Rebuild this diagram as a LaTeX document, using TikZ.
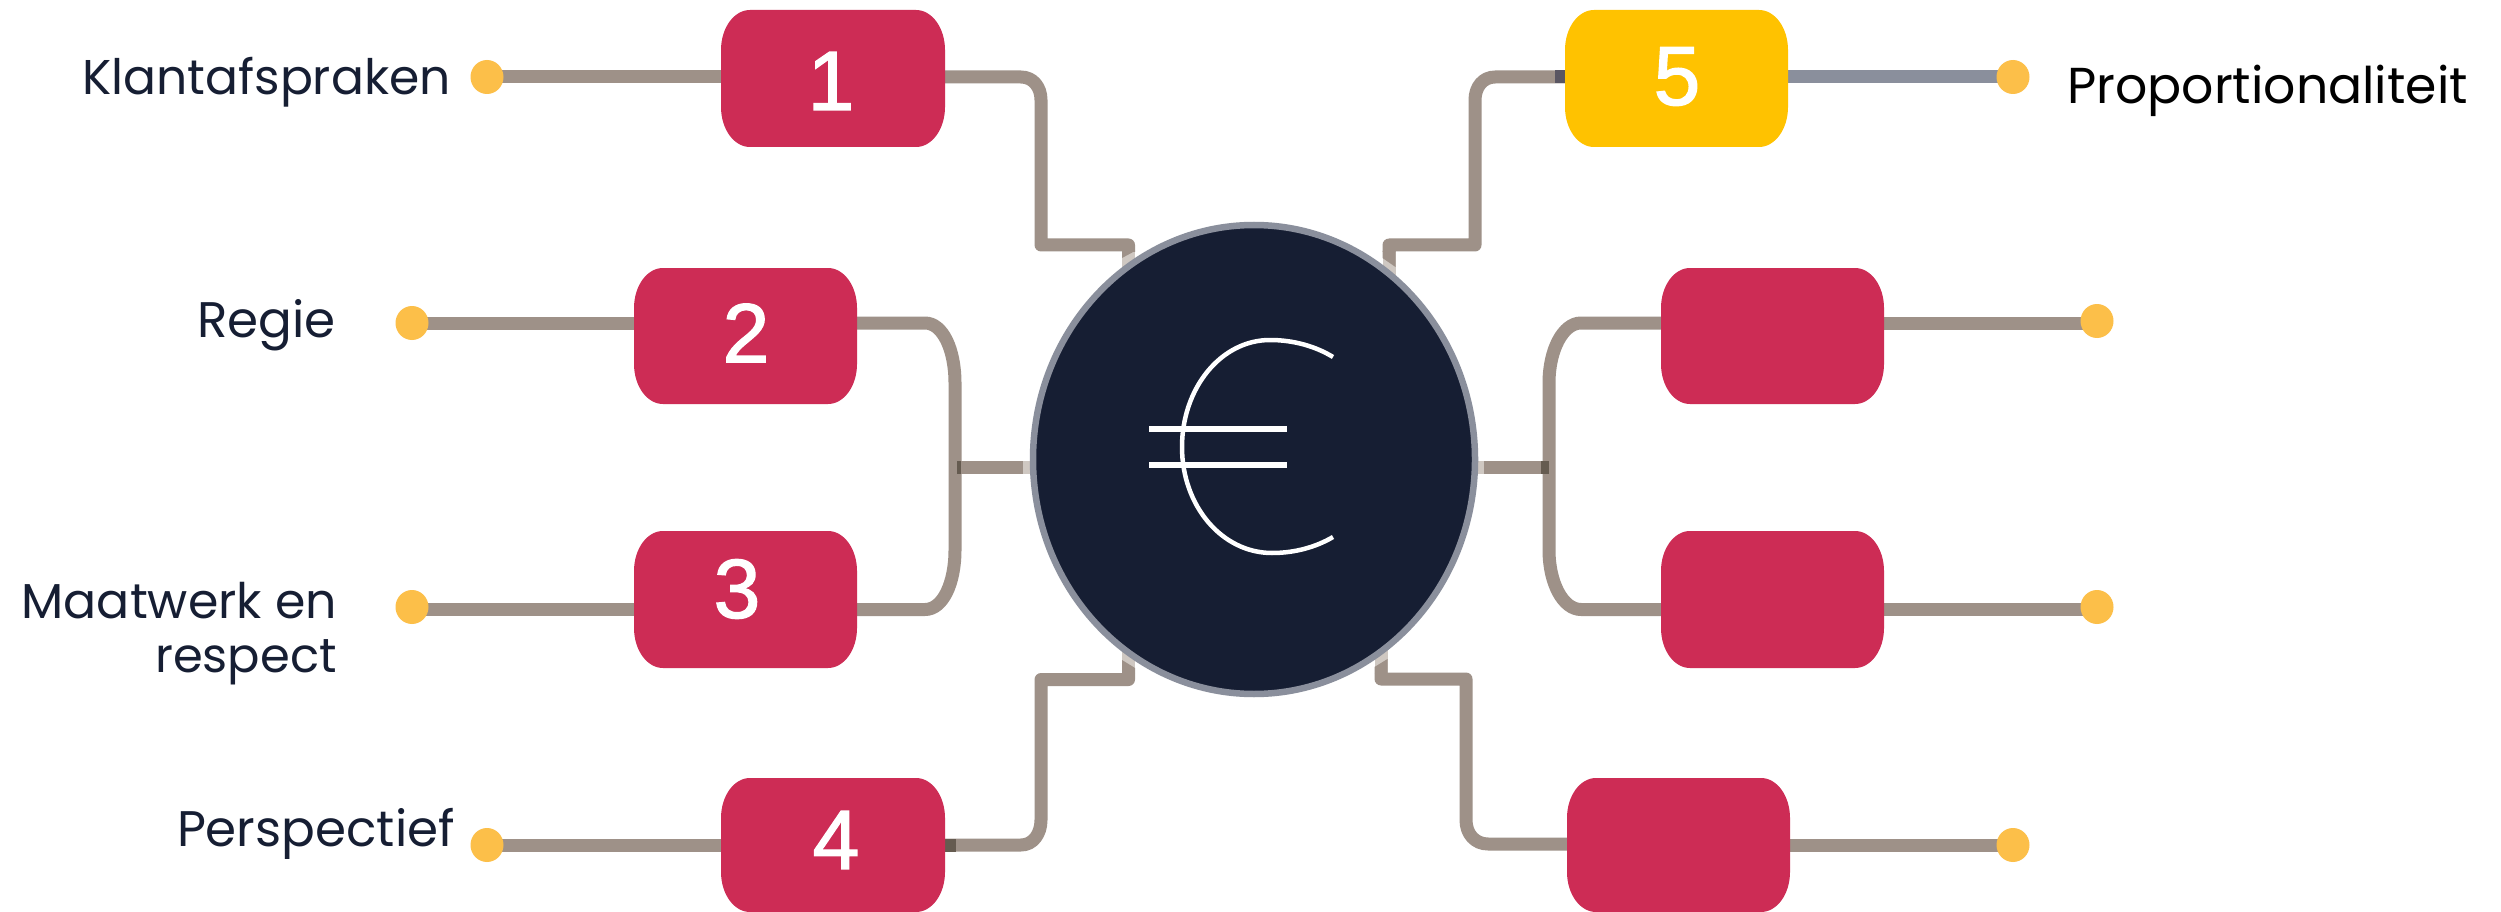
\documentclass[tikz,border=0pt]{standalone}
\usepackage{fontspec}
\setmainfont{Poppins}
\newfontfamily\numfont[FakeBold=1.5]{Liberation Sans}
\usetikzlibrary{shapes.geometric,calc}
\definecolor{ink}{HTML}{161E33}
\definecolor{ring}{HTML}{8A8F9C}
\definecolor{crimson}{HTML}{CD2C55}
\definecolor{amber}{HTML}{FFC200}
\definecolor{dotc}{HTML}{FCBF49}
\definecolor{wire}{HTML}{9E9188}
\definecolor{fadewire}{HTML}{CFC8C2}
\definecolor{darkwire}{HTML}{655B50}
\definecolor{darkblue}{HTML}{5A5662}
\tikzset{
  x=1pt,y=-1pt,
  conn/.style={draw=wire,line width=13pt,line join=round},
  fadeconn/.style={draw=fadewire,line width=13pt},
  overlapconn/.style={draw=darkwire,line width=13pt},
  endpoint/.style={ellipse,fill=dotc,minimum width=33pt,minimum height=34pt,inner sep=0pt,outer sep=0pt},
  holder/.style={rectangle,inner sep=0pt,outer sep=0pt,minimum width=224pt},
  digit/.style={text=white,font=\numfont\fontsize{84}{84}\selectfont,inner sep=0pt},
  lab/.style={text=ink,font=\fontsize{50}{58}\selectfont,inner sep=0pt},
}
% name, x1, y1, x2, y2, colour
\newcommand\tile[6]{%
  \fill[#6] (#2,#3+40) arc[start angle=180,end angle=90,x radius=29pt,y radius=40pt]
    -- (#4-29,#3) arc[start angle=90,end angle=0,x radius=29pt,y radius=40pt]
    -- (#4,#5-40) arc[start angle=0,end angle=-90,x radius=29pt,y radius=40pt]
    -- (#2+29,#5) arc[start angle=-90,end angle=-180,x radius=29pt,y radius=40pt] -- cycle;
}
\begin{document}
\begin{tikzpicture}
\fill[white] (0,0) rectangle (2501,912);
\useasboundingbox (0,0) rectangle (2501,912);
% named anchors (drawn first so connectors can refer to them)
\coordinate (hub) at (1254,459.5);
\node[holder,minimum height=137pt] (b1) at (833,78.5) {};
\node[holder,minimum height=137pt,minimum width=223pt] (b2) at (745.5,336) {};
\node[holder,minimum height=137pt,minimum width=223pt] (b3) at (745.5,599.5) {};
\node[holder,minimum height=134pt] (b4) at (833,845) {};
\node[holder,minimum height=137pt,minimum width=223pt] (b5) at (1676.5,78.5) {};
\node[holder,minimum height=137pt,minimum width=223pt] (b6) at (1772.5,336) {};
\node[holder,minimum height=137pt,minimum width=223pt] (b7) at (1772.5,599.5) {};
\node[holder,minimum height=134pt,minimum width=223pt] (b8) at (1678.5,845) {};
\coordinate (d1) at (487,77);
\coordinate (d2) at (412,323);
\coordinate (d3) at (412,607);
\coordinate (d4) at (487,845);
\coordinate (d5) at (2013,77);
\coordinate (d6) at (2097,321);
\coordinate (d7) at (2097,607);
\coordinate (d8) at (2013,845);

% outer connectors
\draw[conn] (d1 |- 0,77) -- (b1.west |- 0,77);
\draw[conn] (d2 |- 0,323) -- (b2.west |- 0,323);
\draw[conn] (d3 |- 0,609.5) -- (b3.west |- 0,609.5);
\draw[conn] (d4 |- 0,845) -- (b4.west |- 0,845);
\draw[conn,draw=ring] (b5.east |- 0,77) -- (d5 |- 0,77);
\draw[conn] (b6.east |- 0,323) -- (d6 |- 0,323);
\draw[conn] (b7.east |- 0,609.5) -- (d7 |- 0,609.5);
\draw[conn] (b8.east |- 0,845) -- (d8 |- 0,845);

% faded stubs that run under the hub
\draw[fadeconn] (1128.5,252) -- (1128.5,252 |- hub);
\draw[fadeconn] (1389,252) -- (1389,252 |- hub);
\draw[fadeconn] (1128.5,673) -- (1128.5,673 |- hub);
\draw[fadeconn] (1381,673) -- (1381,673 |- hub);
\draw[fadeconn] (1023,467) -- (hub |- 0,467);
\draw[fadeconn] (1484,467) -- (hub |- 0,467);

% inner connectors
\draw[conn] (b1.east |- 0,77) -- (1021,77) .. controls (1033,77) and (1041,87) .. (1041,100)
  -- (1041,245) -- (1128.5,245) -- (1128.5,252);
\draw[conn] (b4.east |- 0,845) -- (1021,845) .. controls (1033,845) and (1041,834) .. (1041,820)
  -- (1041,679.5) -- (1128.5,679.5) -- (1128.5,673);
\draw[conn] (b5.west |- 0,77) -- (1495,77) .. controls (1483,77) and (1475,87) .. (1475,100)
  -- (1475,245) -- (1389,245) -- (1389,252);
\draw[conn] (b8.west |- 0,844) -- (1488,844) .. controls (1475,844) and (1466,834) .. (1466,820)
  -- (1466,679) -- (1381,679) -- (1381,673);
\draw[conn] (b2.east |- 0,323) -- (925,323) .. controls (943,323) and (955,350) .. (955,383)
  -- (955,550) .. controls (955,583) and (943,609.5) .. (925,609.5) -- (b3.east |- 0,609.5);
\draw[conn] (b6.west |- 0,323) -- (1581,323) .. controls (1563,323) and (1549,350) .. (1549,383)
  -- (1549,550) .. controls (1549,583) and (1563,609.5) .. (1581,609.5) -- (b7.west |- 0,609.5);
\draw[conn] (955,467) -- (1023,467);
\draw[conn] (1484,467) -- (1549,467);
% diagonal ends of the solid wire where it turns pale
\fill[wire] (1122,251) -- (1135,251) -- (1122,258) -- cycle;
\fill[wire] (1382.5,251) -- (1395.5,251) -- (1395.5,267) -- (1382.5,258) -- cycle;
\fill[wire] (1122,673) -- (1135,673) -- (1135,668) -- (1122,660) -- cycle;
\fill[wire] (1374.5,673) -- (1387.5,673) -- (1387.5,659) -- (1374.5,667) -- cycle;
% darker overlaps
\draw[overlapconn] (957,467) -- (961,467);
\draw[overlapconn] (1541,467) -- (1549,467);
\draw[overlapconn] (b4.east |- 0,845) -- (956,845);
\draw[draw=darkblue,line width=13pt] (b5.west |- 0,77) -- (1555,77);

% tiles
\tile{b1}{721}{10}{945}{147}{crimson}
\tile{b2}{634}{268}{857}{404}{crimson}
\tile{b3}{634}{531}{857}{668}{crimson}
\tile{b4}{721}{778}{945}{912}{crimson}
\tile{b5}{1565}{10}{1788}{147}{amber}
\tile{b6}{1661}{268}{1884}{404}{crimson}
\tile{b7}{1661}{531}{1884}{668}{crimson}
\tile{b8}{1567}{778}{1790}{912}{crimson}
\node[digit] (n1) at (831,81) {1};
\node[digit] (n2) at (746,333) {2};
\node[digit] (n3) at (737,589) {3};
\node[digit] (n4) at (836,840) {4};
\node[digit] (n5) at (1677,76.5) {5};

% end points
\foreach \p in {d1,d2,d3,d4,d5,d6,d7,d8} \node[endpoint] (e\p) at (\p) {};

% hub
\node[ellipse,fill=ink,draw=ring,line width=6.5pt,minimum width=442pt,minimum height=469pt,inner sep=0pt,outer sep=0pt] (hubnode) at (hub) {};
% euro sign
\draw[white,line width=4.5pt] (1333,357) .. controls (1315,346) and (1293,340) .. (1270,340)
  .. controls (1221,340) and (1182,388) .. (1182,447)
  .. controls (1182,506) and (1222,553) .. (1272,553)
  .. controls (1295,553) and (1316,547) .. (1333,537);
\draw[white,line width=6pt] (1149,429) -- (1287,429);
\draw[white,line width=6pt] (1149,465) -- (1287,465);

% labels
\node[lab,font=\fontsize{48.8}{58}\selectfont,anchor=base east] (t1) at (451,95) {Klantafspraken};
\node[lab,anchor=base east] (t2) at (336,337) {Regie};
\node[lab,font=\fontsize{49}{58}\selectfont,anchor=base east] (t3a) at (337,618) {Maatwerk en};
\node[lab,font=\fontsize{48}{58}\selectfont,anchor=base east] (t3b) at (337,672) {respect};
\node[lab,anchor=base east] (t4) at (455,846) {Perspectief};
\node[lab,anchor=base west,text=black,font=\fontsize{50.5}{58}\selectfont] (t5) at (2067,104) {Proportionaliteit};
\end{tikzpicture}
\end{document}
